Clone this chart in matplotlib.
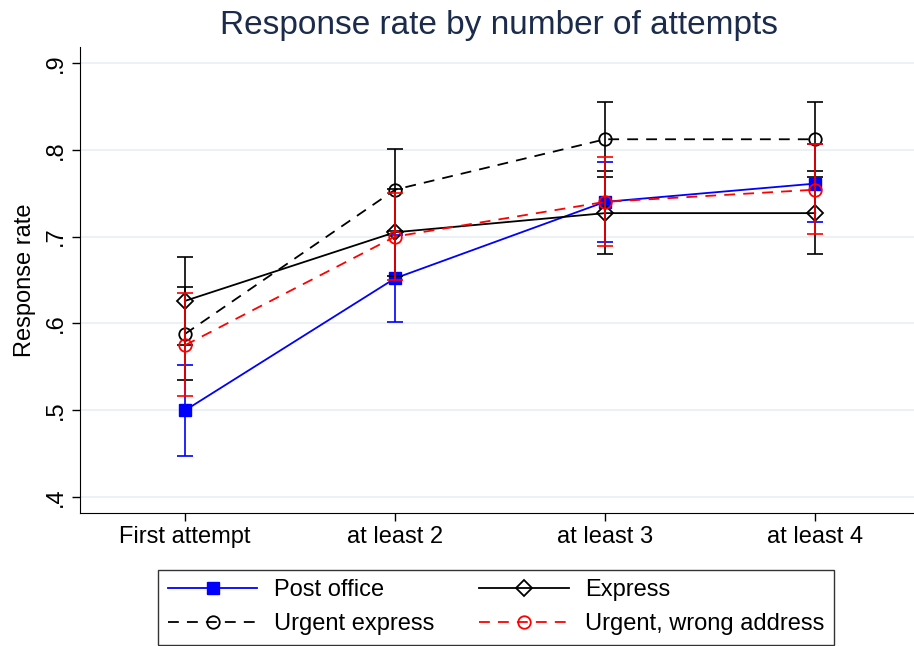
import matplotlib.pyplot as plt

plt.rcParams['font.family'] = ['Liberation Sans', 'DejaVu Sans']

# data
categories = ["First attempt", "at least 2", "at least 3", "at least 4"]
post_office = [0.500, 0.652, 0.740, 0.761]
post_lo = [0.447, 0.602, 0.694, 0.717]
post_hi = [0.552, 0.702, 0.786, 0.806]
express = [0.626, 0.705, 0.727, 0.727]
express_lo = [0.575, 0.655, 0.680, 0.680]
express_hi = [0.677, 0.755, 0.775, 0.775]
urgent = [0.588, 0.754, 0.812, 0.812]
urgent_lo = [0.535, 0.707, 0.769, 0.769]
urgent_hi = [0.642, 0.801, 0.855, 0.855]
wrong = [0.575, 0.700, 0.740, 0.754]
wrong_lo = [0.517, 0.650, 0.689, 0.703]
wrong_hi = [0.635, 0.750, 0.792, 0.806]

x = [1, 2, 3, 4]

fig = plt.figure(figsize=(9.14, 6.46), dpi=100)
ax = fig.add_axes([0.0875, 0.206, 0.9125, 0.721])

dash = (0, (6, 4.5))
series = [
    ("Post office", post_office, post_lo, post_hi, dict(color="blue", ls="-", marker="s", ms=9, mfc="blue", mec="blue")),
    ("Express", express, express_lo, express_hi, dict(color="black", ls="-", marker="D", ms=8, mfc="none", mec="black", mew=1.3)),
    ("Urgent express", urgent, urgent_lo, urgent_hi, dict(color="black", ls=dash, marker="o", ms=9, mfc="none", mec="black", mew=1.3)),
    ("Urgent, wrong address", wrong, wrong_lo, wrong_hi, dict(color="red", ls=dash, marker="o", ms=9, mfc="none", mec="red", mew=1.3)),
]

handles = []
for name, y, lo, hi, st in series:
    yerr = [[v - l for v, l in zip(y, lo)], [h - v for v, h in zip(y, hi)]]
    ax.errorbar(x, y, yerr=yerr, fmt="none", ecolor=st["color"], elinewidth=1.2, capsize=6, capthick=1.2)
    h, = ax.plot(x, y, lw=1.3, label=name, **st)
    handles.append(h)

ax.set_xlim(0.5, 4.47)
ax.set_ylim(0.382, 0.918)
ax.set_xticks(x)
ax.set_xticklabels(categories, fontsize=17)
ax.set_yticks([0.4, 0.5, 0.6, 0.7, 0.8, 0.9])
ax.set_yticklabels([".4", ".5", ".6", ".7", ".8", ".9"], fontsize=17, rotation=90, va="center")
ax.set_ylabel("Response rate", fontsize=17, labelpad=6)
ax.grid(axis="y", color="#e8eff2", lw=1.2)
ax.set_axisbelow(True)
for s in ["top", "right"]:
    ax.spines[s].set_visible(False)
ax.tick_params(length=6, width=1)

fig.suptitle("Response rate by number of attempts", fontsize=24, color="#1a2b4c", x=0.546, y=0.985)

# legend fills row-wise in the reference: reorder for matplotlib's column fill
order = [0, 2, 1, 3]
leg = fig.legend([handles[i] for i in order], [handles[i].get_label() for i in order],
                 loc="lower center", bbox_to_anchor=(0.543, -0.016), ncol=2, fontsize=17,
                 frameon=True, fancybox=False, edgecolor="black", handlelength=3.8,
                 handletextpad=0.7, columnspacing=1.9, labelspacing=0.5, borderpad=0.4)
leg.get_frame().set_linewidth(1)

fig.savefig("out.png", dpi=100)
